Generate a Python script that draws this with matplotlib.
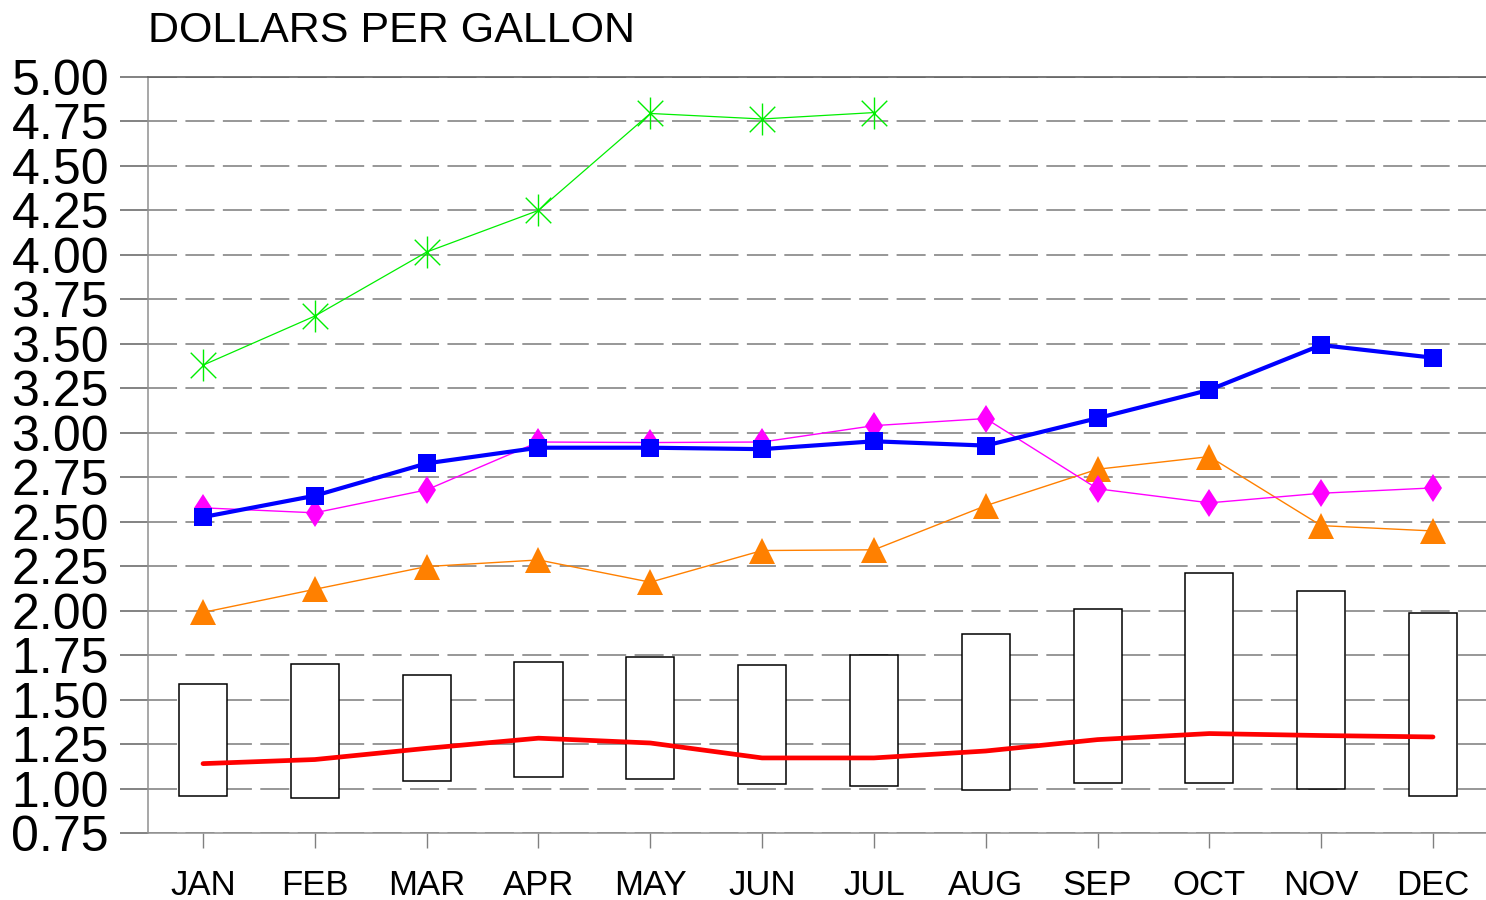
import matplotlib
matplotlib.use("Agg")
import matplotlib.pyplot as plt
from matplotlib.path import Path
import numpy as np

plt.rcParams['font.family'] = ['Liberation Sans', 'DejaVu Sans']

months = ['JAN', 'FEB', 'MAR', 'APR', 'MAY', 'JUN', 'JUL', 'AUG', 'SEP', 'OCT', 'NOV', 'DEC']
ytick_vals = [0.75, 1.00, 1.25, 1.50, 1.75, 2.00, 2.25, 2.50, 2.75, 3.00, 3.25, 3.50, 3.75, 4.00, 4.25, 4.50, 4.75, 5.00]

# floating boxes (low / high)
box_low = [0.958, 0.947, 1.040, 1.063, 1.053, 1.028, 1.012, 0.994, 1.033, 1.031, 0.997, 0.960]
box_high = [1.586, 1.702, 1.637, 1.714, 1.742, 1.697, 1.749, 1.867, 2.008, 2.209, 2.111, 1.984]

red_vals = [1.140, 1.163, 1.226, 1.283, 1.256, 1.172, 1.172, 1.211, 1.275, 1.309, 1.298, 1.290]
orange_vals = [1.990, 2.120, 2.248, 2.285, 2.160, 2.338, 2.342, 2.590, 2.795, 2.866, 2.478, 2.448]
magenta_vals = [2.578, 2.550, 2.679, 2.948, 2.945, 2.948, 3.040, 3.080, 2.685, 2.606, 2.660, 2.690]
blue_vals = [2.526, 2.646, 2.828, 2.916, 2.916, 2.908, 2.952, 2.928, 3.082, 3.241, 3.493, 3.422]
green_vals = [3.380, 3.656, 4.016, 4.250, 4.795, 4.764, 4.800]

fig = plt.figure(figsize=(14.86, 9.0), dpi=100)
ax = fig.add_axes([148 / 1486, 67 / 900, 1338 / 1486, 756 / 900])

x = np.arange(len(months))

ax.set_axisbelow(True)
ax.yaxis.grid(True, color='#7a7a7a', linewidth=1.1, linestyle=(0, (19, 5.5)))
ax.xaxis.grid(False)

ax.bar(x, np.array(box_high) - np.array(box_low), bottom=box_low, width=0.43,
       facecolor='white', edgecolor='black', linewidth=1.1, zorder=2)

ax.plot(x, red_vals, color='#ff0000', linewidth=3.4, zorder=3, solid_capstyle='round')
ax.plot(x, orange_vals, color='#ff8000', linewidth=1.0, marker='^', markersize=19,
        markeredgewidth=0, zorder=4)
ax.plot(x, magenta_vals, color='#ff00ff', linewidth=1.0, marker='d', markersize=14.5,
        markeredgewidth=0, zorder=5)
ax.plot(x, blue_vals, color='#0000ff', linewidth=3.0, marker='s', markersize=12.5,
        markeredgewidth=0, zorder=6)

ast_verts = [(0, -1), (0, 1), (-0.8, -0.8), (0.8, 0.8), (-0.8, 0.8), (0.8, -0.8)]
ast_codes = [Path.MOVETO, Path.LINETO, Path.MOVETO, Path.LINETO, Path.MOVETO, Path.LINETO]
asterisk = Path(ast_verts, ast_codes)
ax.plot(x[:len(green_vals)], green_vals, color='#00ee00', linewidth=0.9, marker=asterisk,
        markersize=23, markeredgewidth=1.0, markerfacecolor='none',
        markeredgecolor='#00ee00', zorder=7)

ax.set_xlim(-0.492, 11.474)
ax.set_ylim(0.75, 5.00)
ax.set_yticks(ytick_vals)
ax.set_yticklabels(['%.2f' % v for v in ytick_vals], fontsize=36)
ax.set_xticks(x)
ax.set_xticklabels(months, fontsize=25)

ax.tick_params(axis='y', direction='out', length=20, width=1.1, color='#606060', pad=8)
ax.tick_params(axis='x', direction='out', length=11, width=1.0, color='#808080', pad=15)

ax.spines['right'].set_visible(False)
ax.spines['top'].set_color('#606060')
ax.spines['top'].set_linewidth(1.2)
ax.spines['left'].set_color('#909090')
ax.spines['left'].set_linewidth(1.1)
ax.spines['bottom'].set_color('#909090')
ax.spines['bottom'].set_linewidth(1.1)

fig.text(148 / 1486, 1 - 42 / 900, 'DOLLARS PER GALLON', fontsize=31, ha='left', va='baseline')

fig.savefig('out.png', dpi=100)
